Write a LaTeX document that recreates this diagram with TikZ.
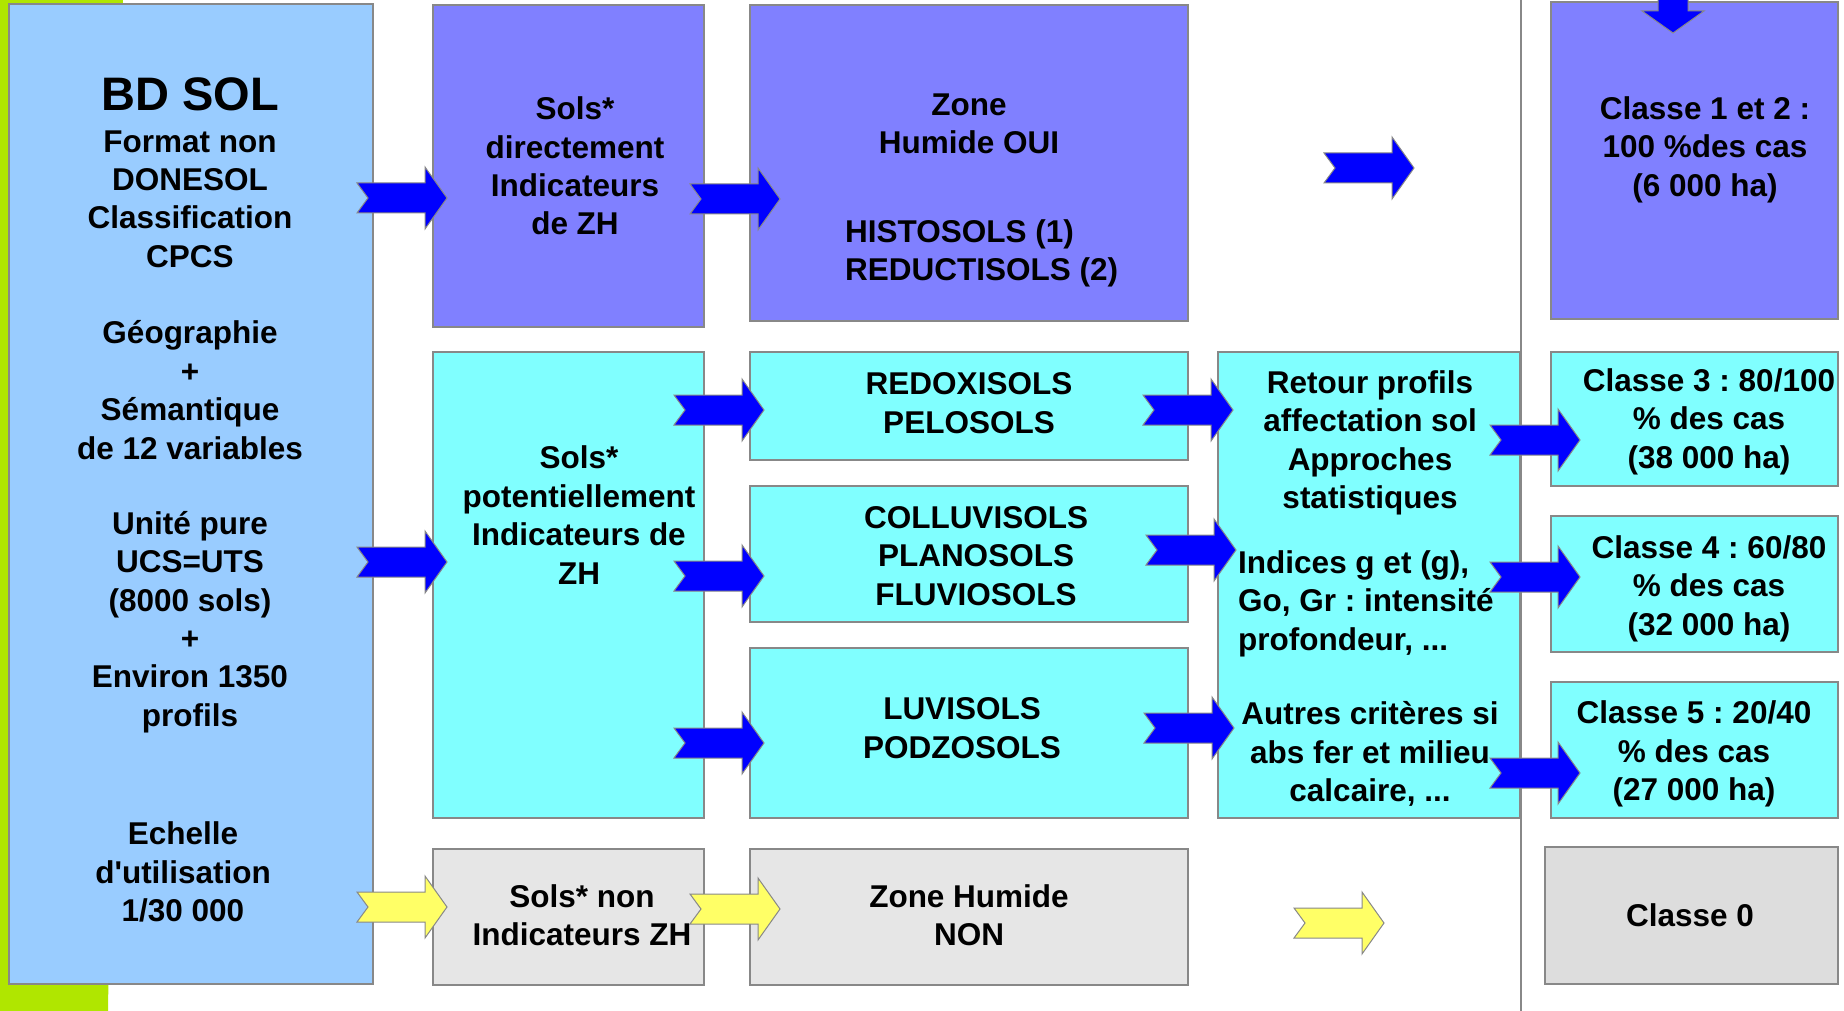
\documentclass[tikz,border=0pt]{standalone}
\usepackage{fontspec}
\setmainfont{Liberation Sans}
\frenchspacing
\definecolor{bdblue}{HTML}{99CCFF}
\definecolor{cpurple}{HTML}{8080FF}
\definecolor{ccyan}{HTML}{80FFFF}
\definecolor{cgrayA}{HTML}{E6E6E6}
\definecolor{cgrayB}{HTML}{DDDDDD}
\definecolor{cgreen}{HTML}{B0E600}
\definecolor{cborder}{HTML}{888888}
\definecolor{cyell}{HTML}{FFFF66}
\definecolor{carrow}{HTML}{0000FF}
\tikzset{
 box/.style={draw=cborder, line width=1.5pt, inner sep=0pt, outer sep=0pt},
 txt/.style={font=\fontsize{31.5}{38.4}\selectfont\bfseries, align=center, inner sep=0pt},
 blockarrow/.pic={\path[draw=cborder, line width=1pt, pic actions] (0,-15) -- (68,-15) -- (68,-31) -- (90,0) -- (68,31) -- (68,15) -- (0,15) -- (11,0) -- cycle;},
 bluearr/.style={fill=carrow},
 yellarr/.style={fill=cyell},
}
\begin{document}
\begin{tikzpicture}[x=1pt,y=-1pt]
\useasboundingbox (0,0) rectangle (1844,1011);
\clip (0,0) rectangle (1844,1011);
% green background strip
\fill[cgreen] (0,0) -- (123,0) -- (108,1011) -- (0,1011) -- cycle;
% boxes
\node[box, fill=bdblue, minimum width=364pt, minimum height=980pt] (bd) at (191,494) {};
\node[box, fill=cpurple, minimum width=271pt, minimum height=322pt] (sdir) at (568.5,166) {};
\node[box, fill=cpurple, minimum width=438pt, minimum height=316pt] (zoui) at (969,163) {};
\node[box, fill=cpurple, minimum width=287pt, minimum height=317pt] (c12) at (1694.5,160.5) {};
\node[box, fill=ccyan, minimum width=271pt, minimum height=466pt] (spot) at (568.5,585) {};
\node[box, fill=ccyan, minimum width=438pt, minimum height=108pt] (redox) at (969,406) {};
\node[box, fill=ccyan, minimum width=438pt, minimum height=136pt] (collu) at (969,554) {};
\node[box, fill=ccyan, minimum width=438pt, minimum height=170pt] (luvi) at (969,733) {};
\node[box, fill=ccyan, minimum width=302pt, minimum height=466pt] (retour) at (1369,585) {};
\node[box, fill=ccyan, minimum width=287pt, minimum height=134pt] (c3) at (1694.5,419) {};
\node[box, fill=ccyan, minimum width=287pt, minimum height=136pt] (c4) at (1694.5,584) {};
\node[box, fill=ccyan, minimum width=287pt, minimum height=136pt] (c5) at (1694.5,750) {};
\node[box, fill=cgrayA, minimum width=271pt, minimum height=136pt] (snon) at (568.5,917) {};
\node[box, fill=cgrayA, minimum width=438pt, minimum height=136pt] (znon) at (969,917) {};
\node[box, fill=cgrayB, minimum width=293pt, minimum height=137pt] (c0) at (1691.5,915.5) {};
% vertical separator
\coordinate (vtop) at (1521,0);
\coordinate (vbot) at (1521,1011);
\draw[cborder, line width=1.5pt] (vtop) -- (vbot);
% block arrows
\pic[bluearr] at (357,198) {blockarrow};
\pic[bluearr] at (690,199) {blockarrow};
\pic[bluearr] at (1324,168) {blockarrow};
\pic[bluearr, rotate=-90] at (1673,-57) {blockarrow};
\pic[bluearr] at (357,562) {blockarrow};
\pic[bluearr] at (674,410) {blockarrow};
\pic[bluearr] at (674,576) {blockarrow};
\pic[bluearr] at (674,743) {blockarrow};
\pic[bluearr] at (1143,410) {blockarrow};
\pic[bluearr] at (1146,550) {blockarrow};
\pic[bluearr] at (1144,728) {blockarrow};
\pic[bluearr] at (1490,440) {blockarrow};
\pic[bluearr] at (1490,577) {blockarrow};
\pic[bluearr] at (1490,773) {blockarrow};
\pic[yellarr] at (357,907) {blockarrow};
\pic[yellarr] at (690,909) {blockarrow};
\pic[yellarr] at (1294,923) {blockarrow};
% texts
\node[txt, font=\fontsize{47}{50}\selectfont\bfseries] (tbd) at (190,94) {BD SOL};
\node[txt] (tb1) at (190,199) {Format non\\DONESOL\\Classification\\CPCS};
\node[txt] (tb2) at (190,390) {Géographie\\+\\Sémantique\\de 12 variables};
\node[txt] (tb3) at (190,622) {Unité pure\\UCS=UTS\\(8000 sols)\\+\\Environ 1350\\profils};
\node[txt] (tb4) at (183,872) {Echelle\\d\textquotesingle utilisation\\1/30 000};
\node[txt] (ts1) at (575,166) {Sols*\\directement\\Indicateurs\\de ZH};
\node[txt] (tz1) at (969,124) {Zone\\Humide OUI};
\node[txt, align=left, anchor=west] (tz2) at (845,253.5) {HISTOSOLS (1)\\REDUCTISOLS (2)};
\node[txt] (tc12) at (1705,149.5) {Classe 1 et 2 :\\100 \%des cas\\(6 000 ha)};
\node[txt] (tsp) at (579,515) {Sols*\\potentiellement\\Indicateurs de\\ZH};
\node[txt] (tr) at (969,403) {REDOXISOLS\\PELOSOLS};
\node[txt] (tcol) at (976,556) {COLLUVISOLS\\PLANOSOLS\\FLUVIOSOLS};
\node[txt] (tl) at (962,728) {LUVISOLS\\PODZOSOLS};
\node[txt] (tret) at (1370,443) {Retour profils\\affectation sol\\Approches\\statistiques};
\node[txt, align=left, anchor=west] (tind) at (1238,603.5) {Indices g et (g),\\Go, Gr : intensité\\profondeur, ...};
\node[txt] (taut) at (1370,754) {Autres critères si\\abs fer et milieu\\calcaire, ...};
\node[txt] (tc3) at (1709,421.5) {Classe 3 : 80/100\\\% des cas\\(38 000 ha)};
\node[txt] (tc4) at (1709,588.5) {Classe 4 : 60/80\\\% des cas\\(32 000 ha)};
\node[txt] (tc5) at (1694,754) {Classe 5 : 20/40\\\% des cas\\(27 000 ha)};
\node[txt] (tsn) at (582,915) {Sols* non\\Indicateurs ZH};
\node[txt] (tzn) at (969,915) {Zone Humide\\NON};
\node[txt] (tc0) at (1690,915) {Classe 0};
\end{tikzpicture}
\end{document}
